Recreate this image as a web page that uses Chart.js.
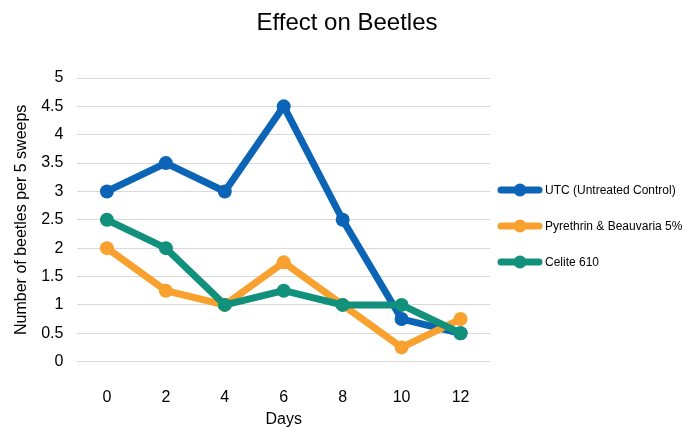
<!DOCTYPE html>
<html>
<head>
<meta charset="utf-8">
<script src="https://cdn.jsdelivr.net/npm/chart.js@4"></script>
<style>
  html, body { margin: 0; padding: 0; background: #ffffff; overflow: hidden; }
  #wrap { position: relative; width: 682px; height: 429px; }
  #title {
    position: absolute; left: 0; top: 10px; width: 694px; text-align: center;
    font-family: 'Liberation Sans', Arial, sans-serif; font-size: 24px; line-height: 24px; color: #000;
  }
  #legend {
    position: absolute; left: 497px; top: 180px;
    font-family: 'Liberation Sans', Arial, sans-serif; font-size: 12px; color: #000;
  }
  .item { display: flex; align-items: center; height: 20px; margin-bottom: 16px; white-space: nowrap; }
  .item canvas { margin-right: 2px; }
</style>
</head>
<body>
<div id="wrap">
  <canvas id="chart" width="682" height="429"></canvas>
  <div id="title">Effect on Beetles</div>
  <div id="legend"></div>
</div>
<script>
const days = ['0', '2', '4', '6', '8', '10', '12'];
const utc = [3, 3.5, 3, 4.5, 2.5, 0.75, 0.5];
const pyrethrin = [2, 1.25, 1, 1.75, 1, 0.25, 0.75];
const celite = [2.5, 2, 1, 1.25, 1, 1, 0.5];

const seriesNames = ['UTC (Untreated Control)', 'Pyrethrin & Beauvaria 5%', 'Celite 610'];
const colors = ['#0b64b6', '#f8a12f', '#11907c'];

const font = "'Liberation Sans', Arial, sans-serif";
const ctx = document.getElementById('chart').getContext('2d');

const data = {
  labels: days,
  datasets: [utc, pyrethrin, celite].map((vals, i) => ({
    label: seriesNames[i],
    data: vals,
    borderColor: colors[i],
    backgroundColor: colors[i],
    borderWidth: 7,
    pointRadius: 7,
    pointHoverRadius: 7,
    pointBorderWidth: 0,
    tension: 0,
    fill: false,
    order: 3 - i
  }))
};

const chart = new Chart(ctx, {
  type: 'line',
  data: data,
  options: {
    responsive: false,
    animation: false,
    layout: { padding: { left: 12, right: 192, top: 78, bottom: 0 } },
    plugins: {
      title: { display: false },
      legend: { display: false },
      tooltip: { enabled: false }
    },
    scales: {
      x: {
        offset: true,
        grid: { display: false, drawTicks: false },
        border: { display: false },
        ticks: { color: '#000000', font: { family: font, size: 16 }, padding: 26 },
        title: {
          display: true,
          text: 'Days',
          color: '#000000',
          font: { family: font, size: 16 },
          padding: { top: -23, bottom: 0 }
        }
      },
      y: {
        min: 0,
        max: 5,
        grid: { color: '#d9d9d9', lineWidth: 1, drawTicks: false },
        border: { display: false },
        ticks: {
          stepSize: 0.5,
          color: '#000000',
          font: { family: font, size: 16 },
          padding: 14,
          callback: (v) => String(v)
        },
        title: {
          display: true,
          text: 'Number of beetles per 5 sweeps',
          color: '#000000',
          font: { family: font, size: 16 },
          padding: { top: 0, bottom: -4 }
        }
      }
    }
  }
});

// legend built from the chart's datasets
const legendEl = document.getElementById('legend');
chart.data.datasets.forEach((ds) => {
  const row = document.createElement('div');
  row.className = 'item';
  const c = document.createElement('canvas');
  c.width = 46;
  c.height = 16;
  const g = c.getContext('2d');
  g.strokeStyle = ds.borderColor;
  g.lineWidth = 7;
  g.lineCap = 'round';
  g.beginPath();
  g.moveTo(4, 8);
  g.lineTo(42, 8);
  g.stroke();
  g.fillStyle = ds.borderColor;
  g.beginPath();
  g.arc(23, 8, 6.5, 0, Math.PI * 2);
  g.fill();
  const span = document.createElement('span');
  span.textContent = ds.label;
  row.appendChild(c);
  row.appendChild(span);
  legendEl.appendChild(row);
});
</script>
</body>
</html>
